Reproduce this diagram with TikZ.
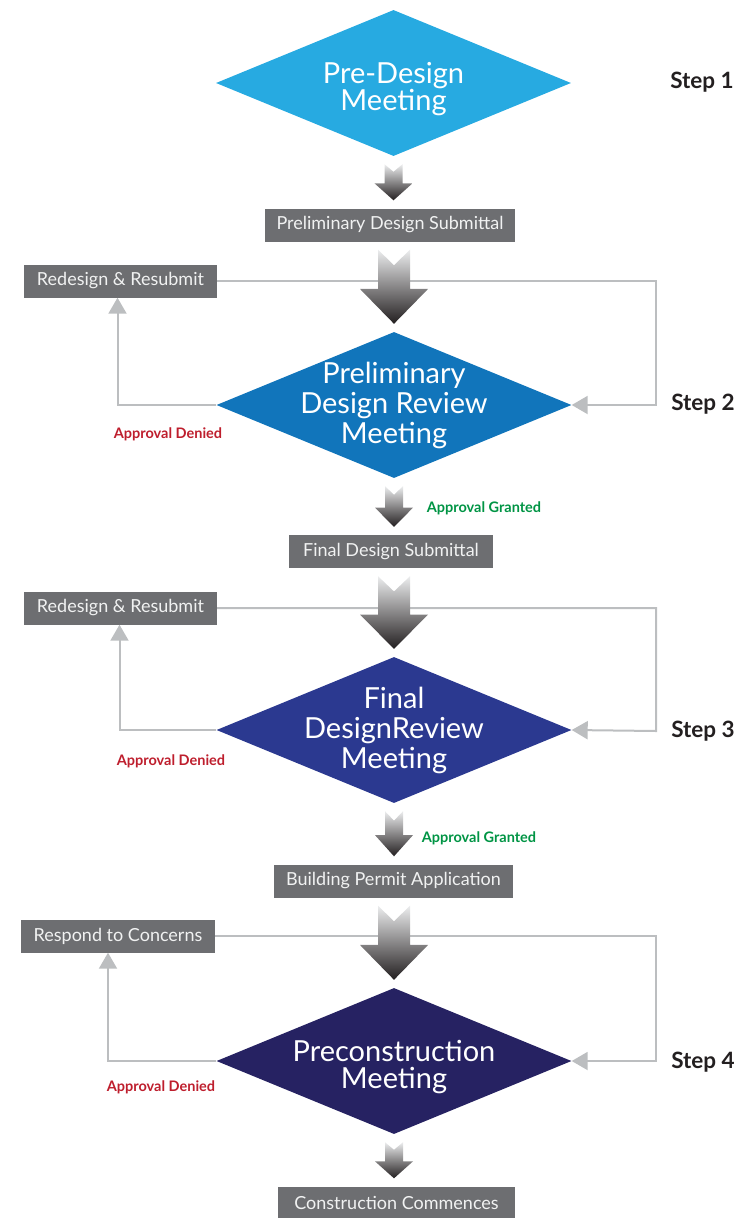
\documentclass[tikz,border=0pt]{standalone}
\usepackage{fontspec}
\setmainfont{Lato}
\usetikzlibrary{shapes.geometric,arrows.meta,calc}

\definecolor{predesign}{RGB}{39,170,225}
\definecolor{prelimreview}{RGB}{17,117,187}
\definecolor{finalreview}{RGB}{43,57,144}
\definecolor{precon}{RGB}{38,34,98}
\definecolor{boxgray}{RGB}{109,110,113}
\definecolor{boxtext}{RGB}{241,242,242}
\definecolor{loopgray}{RGB}{188,190,192}
\definecolor{deniedred}{RGB}{190,30,45}
\definecolor{grantedgreen}{RGB}{0,148,68}
\definecolor{steptext}{RGB}{35,31,32}
\definecolor{arrowtop}{RGB}{236,237,238}
\definecolor{arrowbot}{RGB}{35,31,32}

\tikzset{%
  meeting/.style={diamond, minimum width=355pt, minimum height=146pt, inner xsep=-50pt, inner ysep=-40pt, align=center, text=white, font=\fontsize{29}{30}\selectfont},%
  twoline/.style={text height=60pt, font=\fontsize{29}{27}\selectfont},%
  stagebox/.style={fill=boxgray, text=boxtext, minimum height=33pt, inner xsep=0pt, font=\fontsize{18}{20}\selectfont},%
  loopline/.style={draw=loopgray, line width=2pt},%
  looparrow/.style={loopline, -{Triangle[width=18pt,length=16pt]}},%
  denied/.style={text=deniedred, font=\bfseries\fontsize{14.5}{16}\selectfont},%
  granted/.style={text=grantedgreen, font=\bfseries\fontsize{14.5}{16}\selectfont},%
  steplabel/.style={text=steptext, font=\bfseries\fontsize{22.5}{24}\selectfont},%
}

% gradient block arrow: from, to, diamond (for x), shaft half width, head half width
\newcommand{\flowarrow}[5]{%
  \shade[top color=arrowtop, bottom color=arrowbot]
    let \p1=(#1.south), \p2=(#2.north), \p3=(#3.center), \n1={\y1-\y2-16} in
    ({\x3-#4pt},{\y1-8pt}) -- ({\x3},{\y1-8pt-0.21*\n1}) -- ({\x3+#4pt},{\y1-8pt})
    -- ({\x3+#4pt},{\y2+8pt+0.47*\n1}) -- ({\x3+#5pt},{\y2+8pt+0.47*\n1})
    -- ({\x3},{\y2+8pt}) -- ({\x3-#5pt},{\y2+8pt+0.47*\n1})
    -- ({\x3-#4pt},{\y2+8pt+0.47*\n1}) -- cycle;%
}

\begin{document}
\begin{tikzpicture}[x=1pt, y=-1pt]%
\useasboundingbox (0, 0) rectangle (740, 1218);%
% meetings
\node[meeting, twoline, fill=predesign] (d1) at (393.5, 83) {Pre-Design\\Meeting};%
\node[meeting, fill=prelimreview] (d2) at (394, 405) {Preliminary\\Design Review\\Meeting};%
\node[meeting, fill=finalreview] (d3) at (394, 730) {Final\\DesignReview\\Meeting};%
\node[meeting, twoline, fill=precon] (d4) at (394, 1061) {Preconstruction\\Meeting};%
% submittals
\node[stagebox, minimum width=250pt] (b1) at (390, 225) {Preliminary Design Submittal};%
\node[stagebox, minimum width=204pt] (b2) at (391, 551.5) {Final Design Submittal};%
\node[stagebox, minimum width=239pt] (b3) at (393.5, 881) {Building Permit Application};%
\node[stagebox, minimum width=237pt] (b4) at (396.5, 1203) {Construction Commences};%
\node[stagebox, minimum width=193pt] (r1) at (120.5, 281) {Redesign \& Resubmit};%
\node[stagebox, minimum width=193pt] (r2) at (120.5, 608) {Redesign \& Resubmit};%
\node[stagebox, minimum width=194pt] (r3) at (118, 936) {Respond to Concerns};%
% loop corners
\coordinate (k1) at (656, 405);%
\coordinate (k2) at (656, 731);%
\coordinate (k3) at (656, 1061);%
\draw[looparrow] (r1.east) -| (k1) -- (d2.east);%
\draw[looparrow] (r2.east) -| (k2) -- (d3.east);%
\draw[looparrow] (r3.east) -| (k3) -- (d4.east);%
\draw[looparrow] (d2.west) -| ([xshift=-3pt]r1.south);%
\draw[looparrow] (d3.west) -| ([xshift=-1pt]r2.south);%
\draw[looparrow] (d4.west) -| ([xshift=-10pt]r3.south);%
% block arrows
\flowarrow{d1}{b1}{d1}{9}{19}%
\flowarrow{b1}{d2}{d2}{16}{34}%
\flowarrow{d2}{b2}{d2}{9}{19}%
\flowarrow{b2}{d3}{d3}{16}{34}%
\flowarrow{d3}{b3}{d3}{9}{19}%
\flowarrow{b3}{d4}{d4}{16}{34}%
\flowarrow{d4}{b4}{d4}{9}{19}%
% labels
\node[denied] (n2) at (168, 434) {Approval Denied};%
\node[denied] (n3) at (171, 761) {Approval Denied};%
\node[denied] (n4) at (161, 1087) {Approval Denied};%
\node[granted] (g2) at (484, 508) {Approval Granted};%
\node[granted] (g3) at (479, 838) {Approval Granted};%
\node[steplabel] (s1) at (702, 82) {Step 1};%
\node[steplabel] (s2) at (703, 404) {Step 2};%
\node[steplabel] (s3) at (703, 731) {Step 3};%
\node[steplabel] (s4) at (703, 1062) {Step 4};%
\end{tikzpicture}
\end{document}
